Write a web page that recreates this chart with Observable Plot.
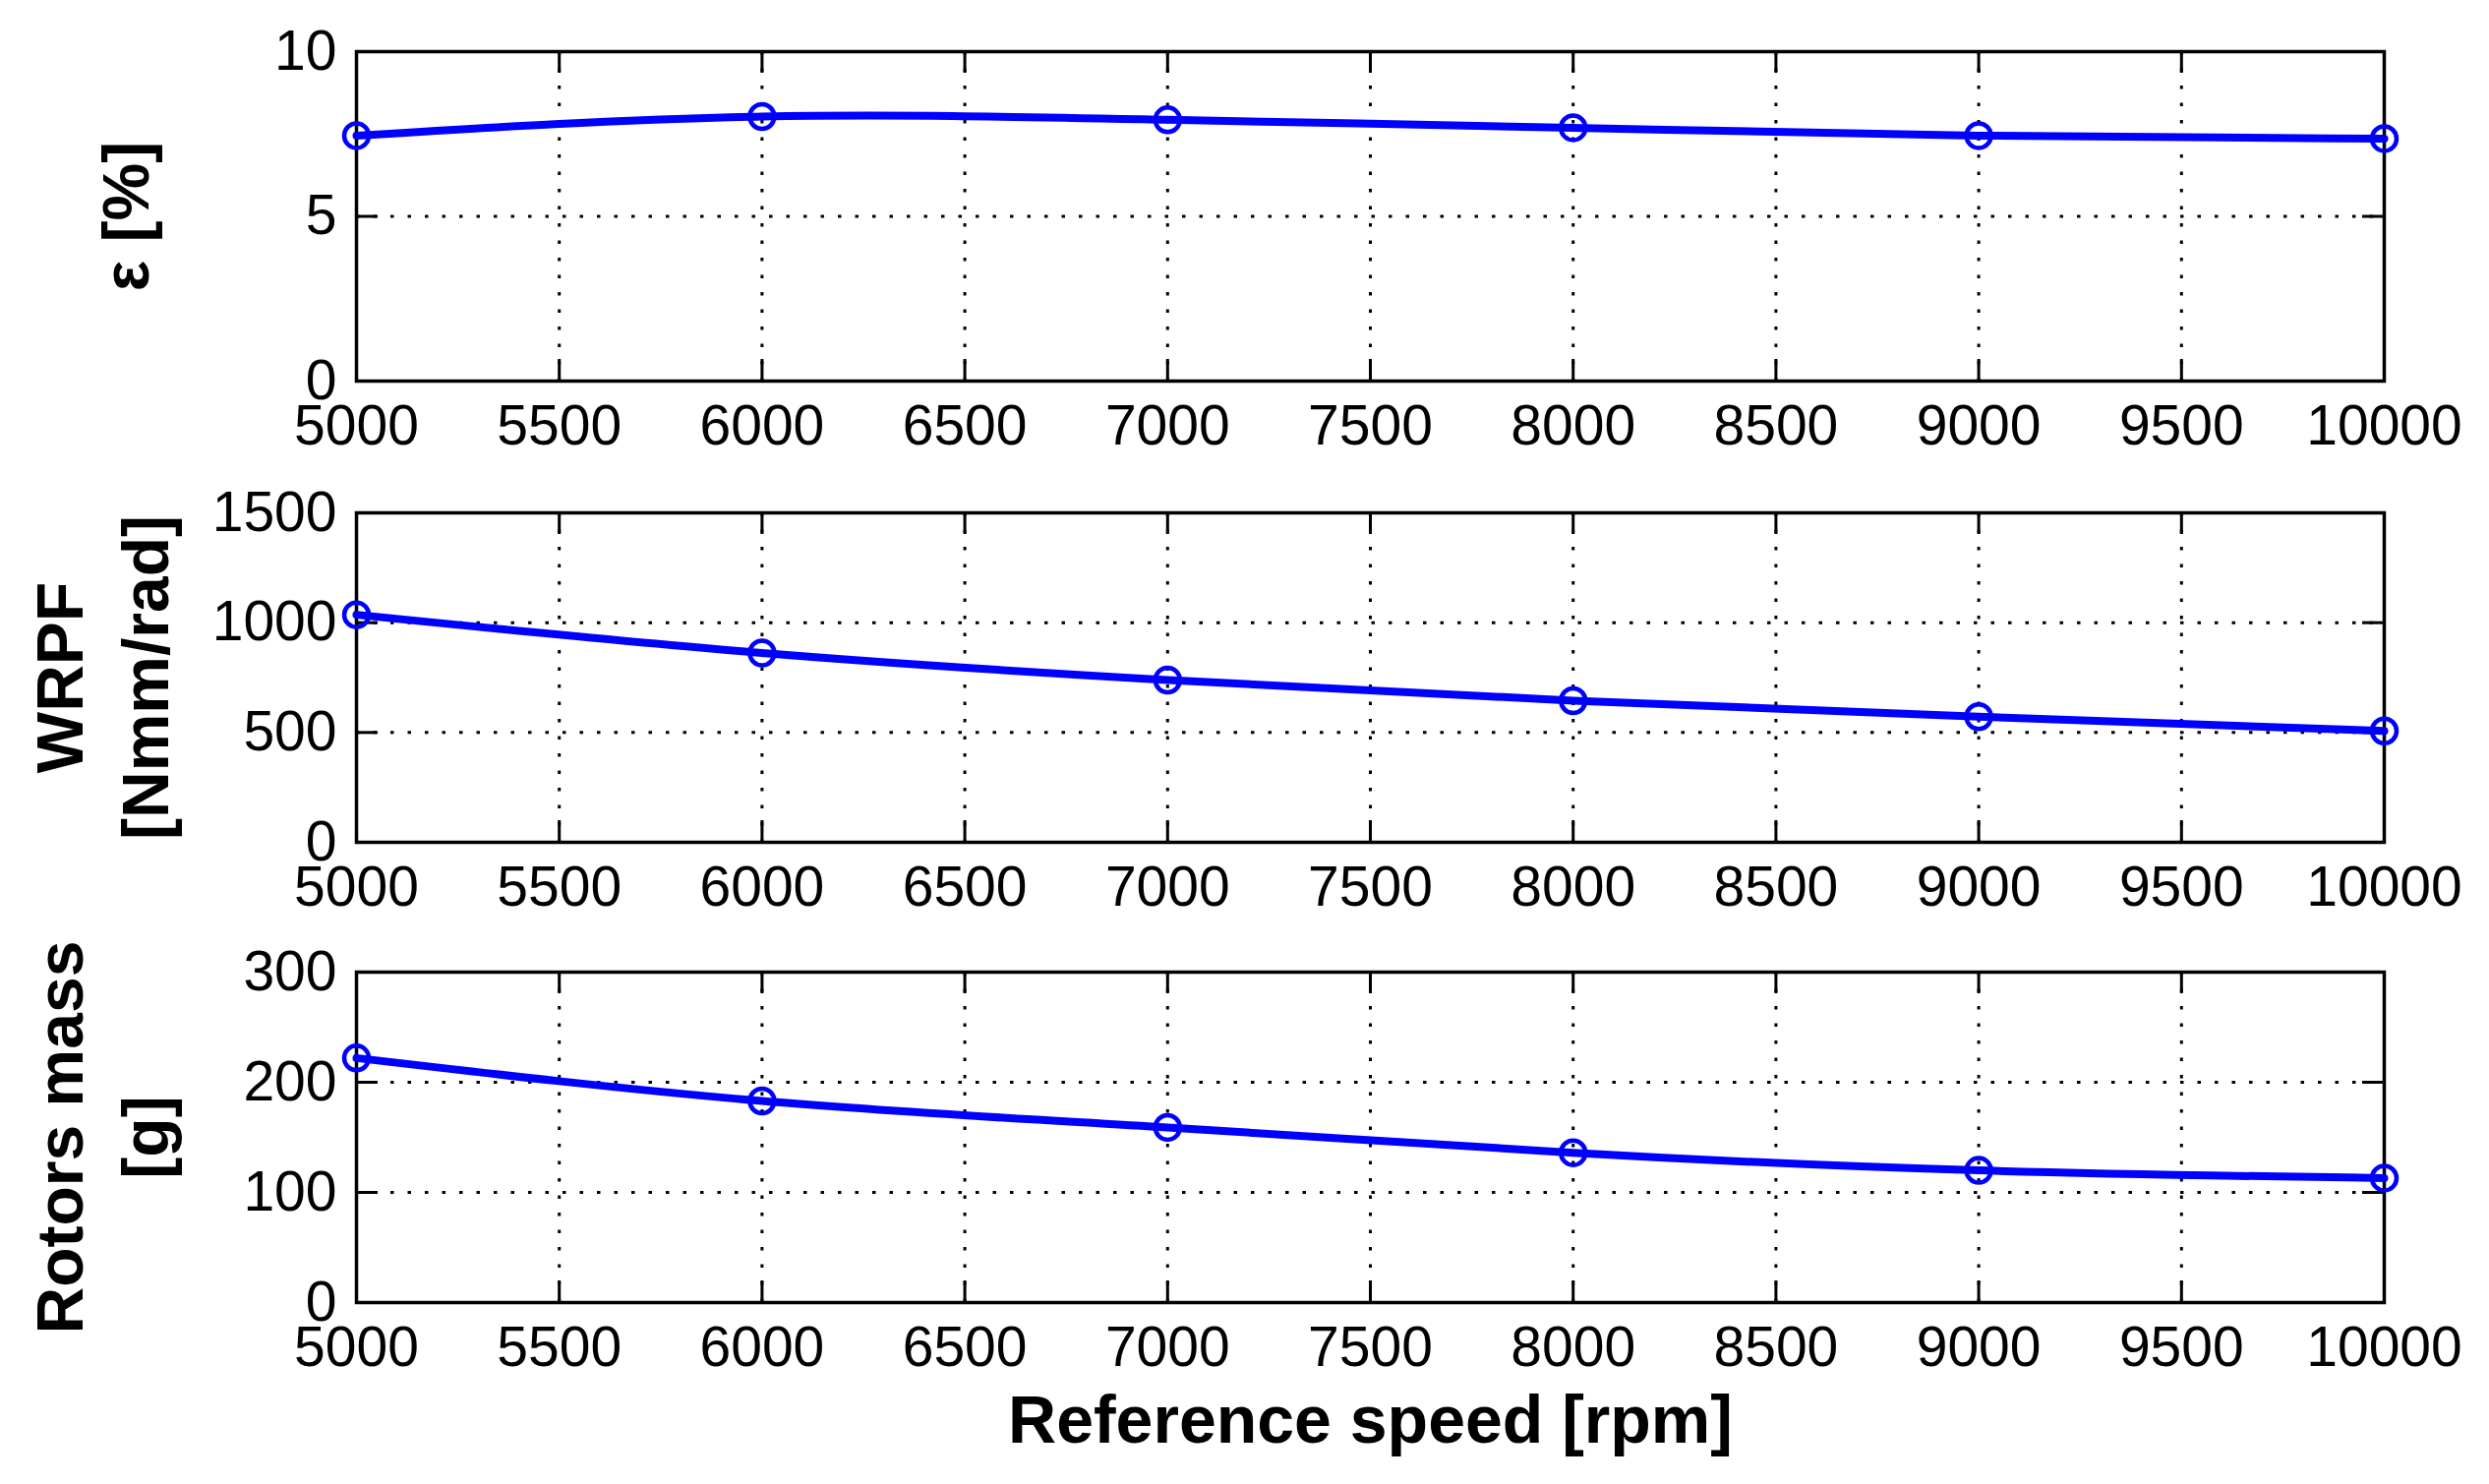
<!DOCTYPE html>
<html><head><meta charset="utf-8">
<script src="https://cdn.jsdelivr.net/npm/d3@7"></script>
<script src="https://cdn.jsdelivr.net/npm/@observablehq/plot@0.6"></script>
<style>
body{margin:0;background:#fff}
#chart{width:2531px;display:flex;flex-direction:column}
#chart svg{display:block}
</style>
</head><body><div id="chart"></div>
<script>
// Data
const speed = [5000, 6000, 7000, 8000, 9000, 10000];
const epsilon = [7.45, 8.03, 7.93, 7.69, 7.45, 7.36];
const wrpf = [1036, 862, 739, 645, 572, 507];
const rotorMass = [222, 183, 159, 136, 120, 113];

const xTicks = [5000, 5500, 6000, 6500, 7000, 7500, 8000, 8500, 9000, 9500, 10000];
const epsTicks = [0, 5, 10];
const wrpfTicks = [0, 500, 1000, 1500];
const massTicks = [0, 100, 200, 300];

const W = 2531, ML = 362, MR = 107;
const PW = W - ML - MR;
const TICK = 22;
const BLUE = "#0000FF";
const FONT = "'Liberation Sans', Arial, Helvetica, sans-serif";

function panel({values, domain, ticks, label, labelDx, height, top, plotH, xlabel}) {
  const data = speed.map((s, i) => ({x: s, y: values[i]}));
  const bottom = height - top - plotH;
  const marks = [
    Plot.ruleX(xTicks, {x: d => d, stroke: "black", strokeWidth: 3, strokeDasharray: "3.5,14"}),
    Plot.ruleY(ticks, {y: d => d, stroke: "black", strokeWidth: 3, strokeDasharray: "3.5,14"}),
    Plot.tickX(xTicks, {x: d => d, stroke: "black", strokeWidth: 3, insetTop: plotH - TICK}),
    Plot.tickX(xTicks, {x: d => d, stroke: "black", strokeWidth: 3, insetBottom: plotH - TICK}),
    Plot.tickY(ticks, {y: d => d, stroke: "black", strokeWidth: 3, insetRight: PW - TICK}),
    Plot.tickY(ticks, {y: d => d, stroke: "black", strokeWidth: 3, insetLeft: PW - TICK}),
    Plot.frame({stroke: "black", strokeWidth: 3.5}),
    Plot.line(data, {x: "x", y: "y", stroke: BLUE, strokeWidth: 8, curve: "natural"}),
    Plot.dot(data, {x: "x", y: "y", r: 12.5, stroke: BLUE, strokeWidth: 4.5, fill: "none"}),
    Plot.text([label], {text: d => d, frameAnchor: "left", dx: labelDx, rotate: -90,
      fontSize: 66, fontWeight: "bold", lineHeight: 1.33, textAnchor: "middle", lineAnchor: "middle", fill: "black"})
  ];
  if (xlabel) {
    marks.push(Plot.text([xlabel], {text: d => d, frameAnchor: "bottom", dy: 121,
      fontSize: 68, fontWeight: "bold", textAnchor: "middle", lineAnchor: "middle", fill: "black"}));
  }
  return Plot.plot({
    width: W, height,
    marginLeft: ML, marginRight: MR, marginTop: top, marginBottom: bottom,
    style: {fontSize: "57px", fontFamily: FONT, background: "white", color: "black", overflow: "visible"},
    x: {domain: [5000, 10000], ticks: xTicks, tickSize: 0, tickPadding: 24, tickFormat: d => `${d}`, label: null},
    y: {domain, ticks, tickSize: 0, tickPadding: 20, tickFormat: d => `${d}`, label: null},
    marks
  });
}

const chart = document.getElementById("chart");
chart.append(panel({values: epsilon, domain: [0, 10], ticks: epsTicks, label: "ε [%]", labelDx: -240,
  height: 469, top: 52, plotH: 335}));
chart.append(panel({values: wrpf, domain: [0, 1500], ticks: wrpfTicks, label: "WRPF\n[Nmm/rad]", labelDx: -263,
  height: 467, top: 52, plotH: 335}));
chart.append(panel({values: rotorMass, domain: [0, 300], ticks: massTicks, label: "Rotors mass\n[g]", labelDx: -263,
  height: 573, top: 52, plotH: 336, xlabel: "Reference speed [rpm]"}));
</script>
</body></html>
